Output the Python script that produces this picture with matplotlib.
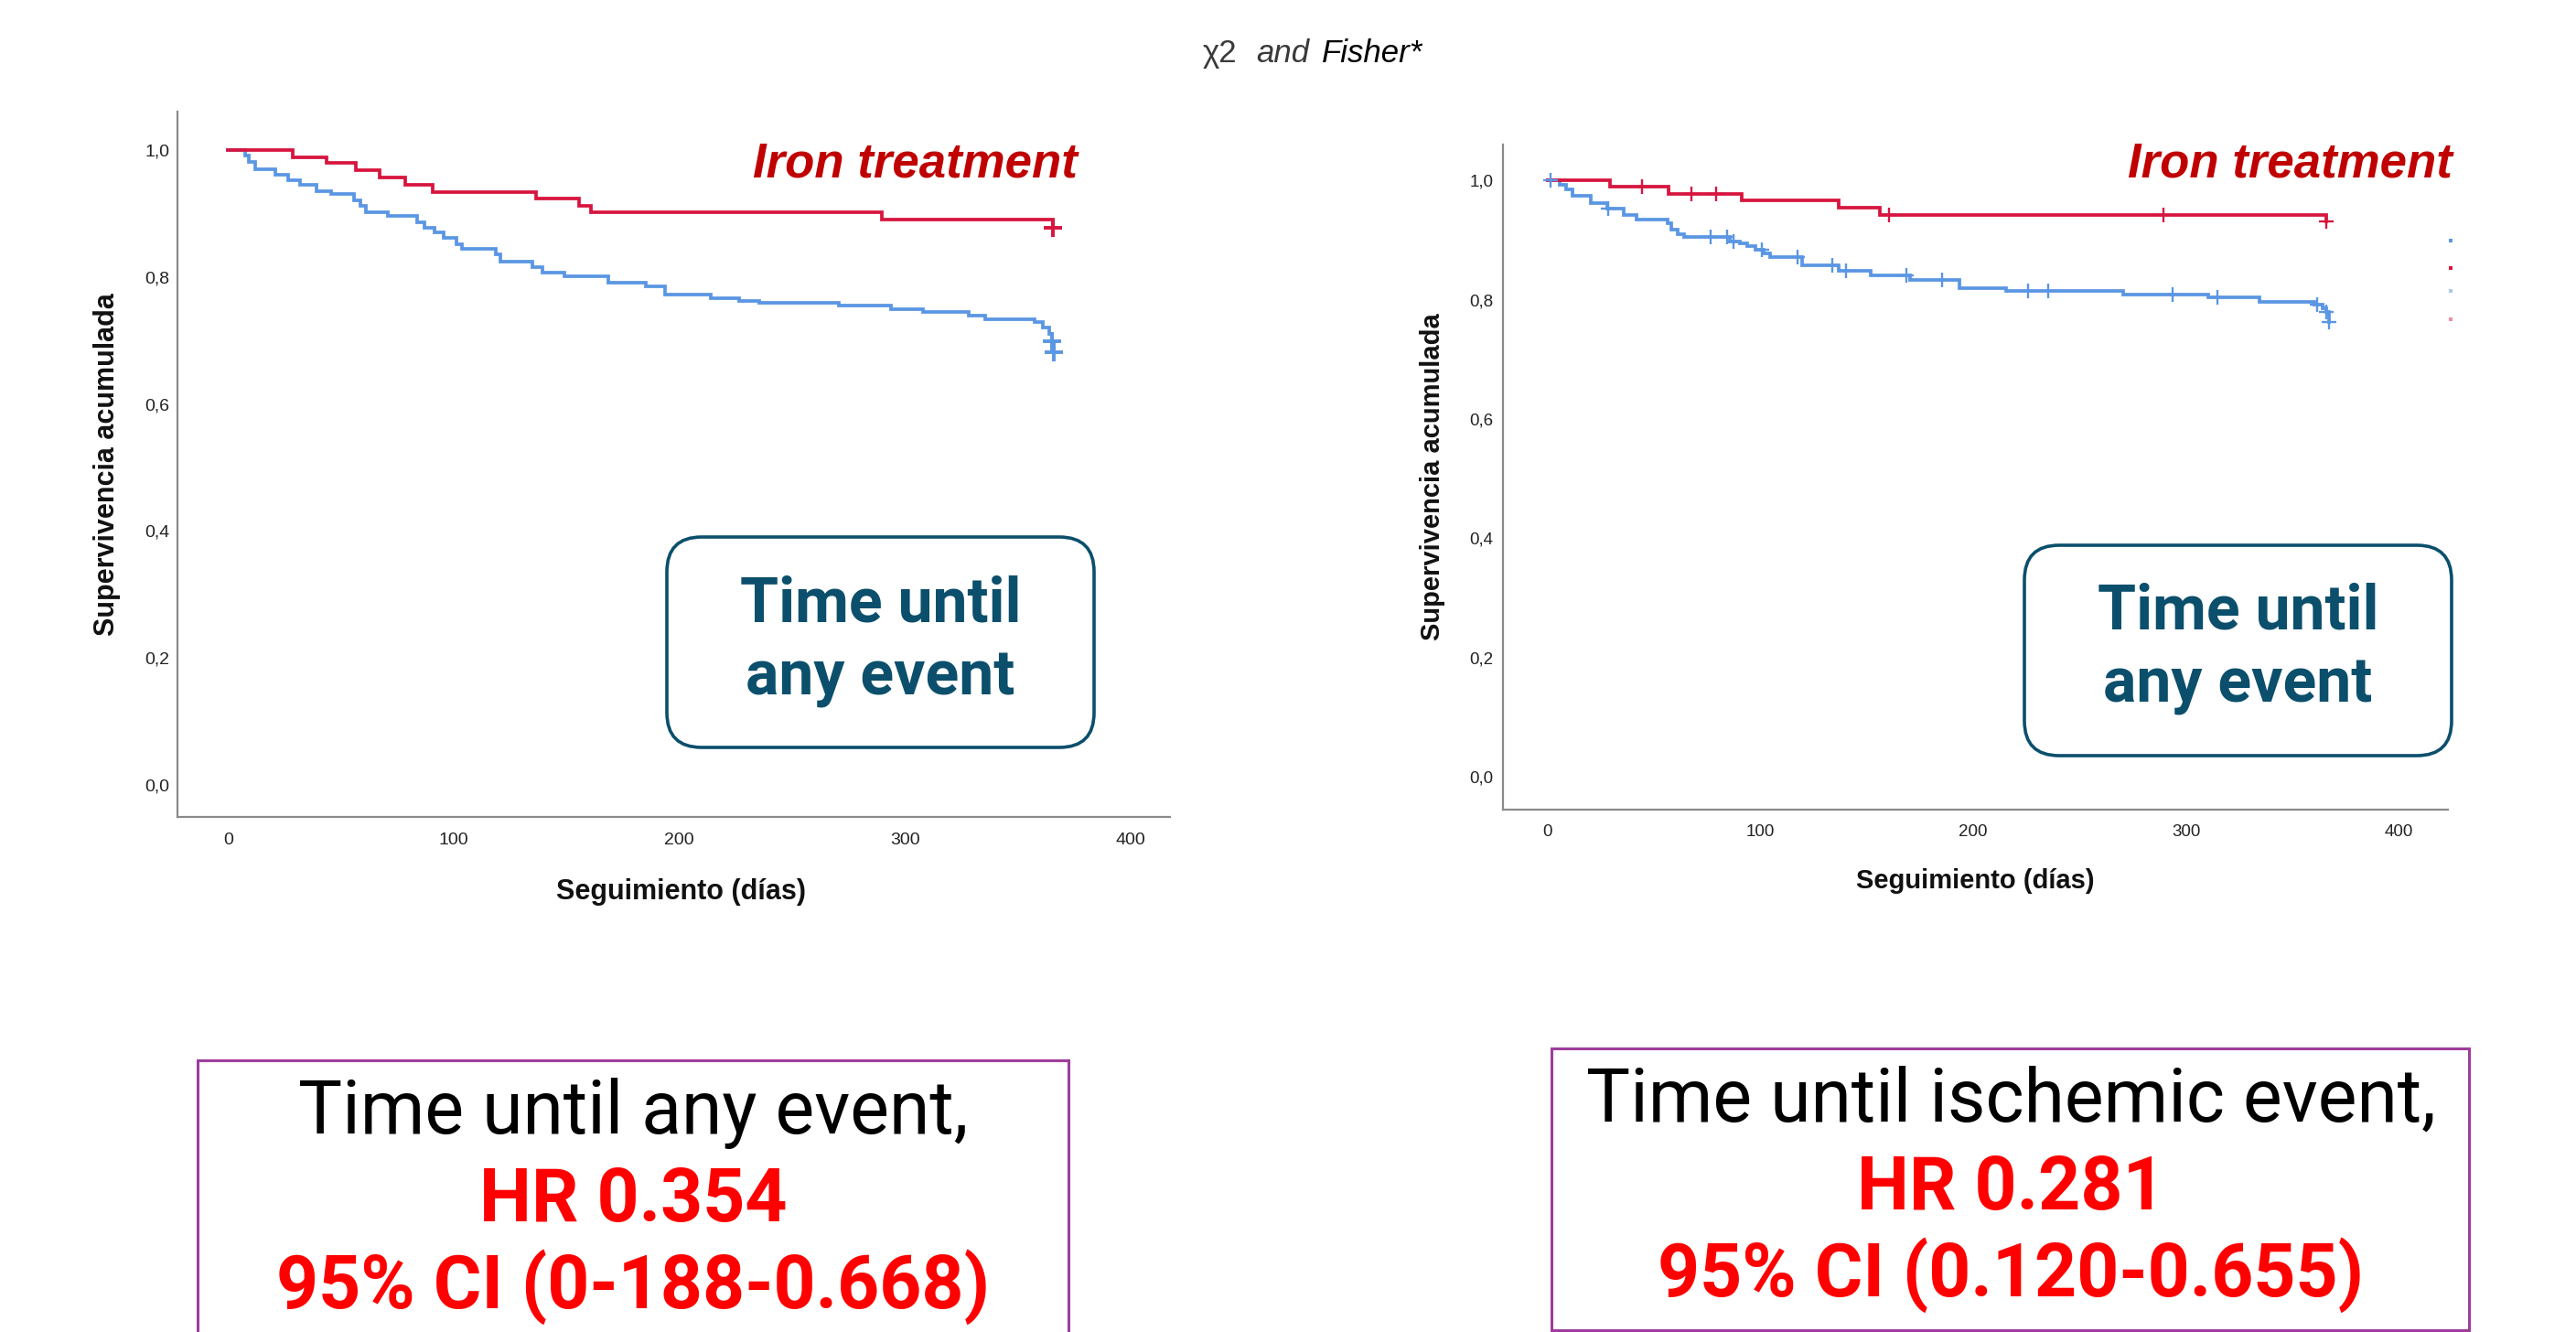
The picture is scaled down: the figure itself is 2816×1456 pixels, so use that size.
import numpy as np
import matplotlib
matplotlib.use("Agg")
import matplotlib.pyplot as plt
from matplotlib.patches import FancyBboxPatch, Rectangle

# ---------------- data ----------------
title_parts = ["χ2", "and", "Fisher*"]
group_label = "Iron treatment"
box_label = ["Time until", "any event"]
x_ticks = [0, 100, 200, 300, 400]
y_ticks = [0.0, 0.2, 0.4, 0.6, 0.8, 1.0]
y_tick_labels = ["0,0", "0,2", "0,4", "0,6", "0,8", "1,0"]
x_label = "Seguimiento (días)"
y_label = "Supervivencia acumulada"

# Left panel: time until any event
left_iron_t = [0, 28.7, 43.7, 56.6, 67.0, 78.4, 90.8, 136.3, 155.5, 160.6, 289.5, 365.5]
left_iron_s = [1.0, 0.989, 0.980, 0.969, 0.957, 0.946, 0.934, 0.924, 0.913, 0.902, 0.891, 0.878]
left_iron_cens = [365.5]

left_ctrl_t = [0, 7.5, 9.3, 11.9, 21, 26.6, 31.8, 39, 45.5, 55.9, 58.5, 61, 70.6, 83.6, 86.9,
               91.3, 95.5, 101.2, 103.7, 118.7, 120.6, 134.8, 139.4, 149, 168.4, 185.2, 193.8,
               213.7, 226.6, 235.2, 270.6, 293.9, 308, 328.3, 335.3, 357.3, 361.1, 363.7, 365, 366]
left_ctrl_s = [1.0, 0.992, 0.982, 0.970, 0.961, 0.953, 0.945, 0.936, 0.931, 0.921, 0.912, 0.903,
               0.896, 0.886, 0.878, 0.870, 0.862, 0.852, 0.845, 0.836, 0.825, 0.816, 0.807, 0.801,
               0.791, 0.786, 0.773, 0.767, 0.763, 0.759, 0.755, 0.750, 0.745, 0.740, 0.734, 0.729,
               0.720, 0.711, 0.699, 0.682]
left_ctrl_cens = [365, 366]

# Right panel: time until ischemic event
right_iron_t = [0, 29.3, 57, 91.1, 136.9, 155.9, 366]
right_iron_s = [1.0, 0.989, 0.977, 0.966, 0.954, 0.942, 0.931]
right_iron_cens = [44.3, 67.6, 79, 160.2, 289.2, 366]

right_ctrl_t = [0, 5.7, 8.8, 11.8, 20.2, 27.8, 35.9, 41.9, 56.4, 57.9, 60.9, 64, 85.7, 90.2, 93.8,
                97.7, 101.6, 104.7, 119.7, 136.9, 152, 170.1, 193.3, 215.4, 270.5, 310.4, 334.5,
                360.1, 364, 366, 367]
right_ctrl_s = [1.0, 0.992, 0.985, 0.974, 0.962, 0.952, 0.942, 0.935, 0.928, 0.918, 0.910, 0.905,
                0.897, 0.894, 0.889, 0.884, 0.877, 0.871, 0.858, 0.848, 0.840, 0.833, 0.819, 0.814,
                0.809, 0.804, 0.796, 0.791, 0.786, 0.780, 0.763]
right_ctrl_cens = [1.2, 28.4, 76.6, 84.2, 87.2, 100.7, 117.3, 133.9, 140, 168.6, 185.2, 225.9, 235,
                   293.8, 314.9, 361.6, 366, 367]

left_result = ["Time until any event,", "HR 0.354", "95% CI (0-188-0.668)"]
right_result = ["Time until ischemic event,", "HR 0.281", "95% CI (0.120-0.655)"]

# ---------------- style ----------------
W, H = 2816, 1456
BLUE = "#5A96E3"
RED = "#D7153F"
DARKRED = "#C00000"
TEAL = "#0B4F6C"
PURPLE = "#9E3D9C"
SPINE = "#8a8a8a"
SANS = ["Liberation Sans", "DejaVu Sans"]
NARROW = ["Liberation Sans Narrow", "Liberation Sans", "DejaVu Sans"]
ROBOTO = ["Roboto", "DejaVu Sans"]

fig = plt.figure(figsize=(W / 100, H / 100), dpi=100)
fig.patch.set_facecolor("white")


def step_value(times, surv, t):
    idx = np.searchsorted(np.asarray(times), t, side="right") - 1
    return np.asarray(surv)[idx]


def km_panel(rect, xlim, ylim, curves, fs_tick, fs_lab, ylab_x, xlab_y, xlab_x, xpad, ypad, ms, mew):
    ax = fig.add_axes(rect)
    for t, s, cens, col in curves:
        ax.step(t, s, where="post", color=col, lw=2.7, solid_joinstyle="miter", zorder=3)
        cy = [step_value(t, s, c) for c in cens]
        ax.plot(cens, cy, linestyle="none", marker="+", color=col, ms=ms, mew=mew, zorder=4)
    ax.set_xlim(*xlim)
    ax.set_ylim(*ylim)
    ax.set_xticks(x_ticks)
    ax.set_xticklabels([str(v) for v in x_ticks], family=SANS, fontsize=fs_tick, color="#222222")
    ax.set_yticks(y_ticks)
    ax.set_yticklabels(y_tick_labels, family=SANS, fontsize=fs_tick, color="#222222")
    ax.tick_params(axis="both", length=0)
    ax.tick_params(axis="x", pad=xpad)
    ax.tick_params(axis="y", pad=ypad)
    for side in ["top", "right"]:
        ax.spines[side].set_visible(False)
    for side in ["left", "bottom"]:
        ax.spines[side].set_color(SPINE)
        ax.spines[side].set_linewidth(1.6)
    ax.set_ylabel(y_label, family=SANS, fontsize=fs_lab, fontweight="bold", color="#111111")
    ax.yaxis.set_label_coords(ylab_x, 0.5)
    ax.yaxis.label.set_verticalalignment("center")
    ax.set_xlabel(x_label, family=SANS, fontsize=fs_lab, fontweight="bold", color="#111111")
    ax.xaxis.set_label_coords(xlab_x, xlab_y)
    ax.xaxis.label.set_verticalalignment("center")
    ax.set_facecolor("none")
    return ax


axL = km_panel([194 / W, 1 - 893 / H, 1085 / W, 771 / H], (-22.5, 417.4), (-0.051, 1.061),
               [(left_ctrl_t, left_ctrl_s, left_ctrl_cens, BLUE),
                (left_iron_t, left_iron_s, left_iron_cens, RED)],
               14, 22, -0.071, -0.106, 0.507, 12, 6, 14, 2.8)

axR = km_panel([1643 / W, 1 - 885 / H, 1033 / W, 727 / H], (-21, 423), (-0.055, 1.06),
               [(right_ctrl_t, right_ctrl_s, right_ctrl_cens, BLUE),
                (right_iron_t, right_iron_s, right_iron_cens, RED)],
               13.5, 21, -0.0745, -0.107, 0.4995, 11.5, 7.5, 11, 1.7)

# ---------------- overlay in pixel coordinates ----------------
ov = fig.add_axes([0, 0, 1, 1], zorder=10)
ov.set_xlim(0, W)
ov.set_ylim(H, 0)
ov.axis("off")
ov.patch.set_alpha(0)

# title
ov.text(1315, 68, title_parts[0], family=SANS, fontsize=25, color="#3a3a3a", va="baseline", ha="left")
ov.text(1373, 68, title_parts[1], family=SANS, fontsize=25, style="italic", color="#3a3a3a",
        va="baseline", ha="left")
ov.text(1445, 68, title_parts[2], family=SANS, fontsize=25, style="italic", color="black",
        va="baseline", ha="left")

# group labels
for xr in (1178, 2681):
    ov.text(xr, 194, group_label, family=NARROW, fontsize=38, fontweight="bold", style="italic",
            color=DARKRED, ha="right", va="baseline")

# rounded boxes
for (x0, x1, y0, y1) in [(729, 1196, 587, 817), (2213, 2680, 596, 826)]:
    ov.add_patch(FancyBboxPatch((x0, y0), x1 - x0, y1 - y0,
                                boxstyle="round,pad=0,rounding_size=38",
                                facecolor="white", edgecolor=TEAL, lw=2.6))
    cx = (x0 + x1) / 2
    ov.text(cx, y0 + 92, box_label[0], family=ROBOTO, fontsize=49, fontweight="bold",
            color=TEAL, ha="center", va="baseline")
    ov.text(cx, y0 + 172, box_label[1], family=ROBOTO, fontsize=49, fontweight="bold",
            color=TEAL, ha="center", va="baseline")

# tiny cut-off legend markers on the right
for yy, col in zip([263, 293, 318, 349], [BLUE, RED, "#A9C8F0", "#EE8FA5"]):
    ov.add_patch(Rectangle((2677, yy - 2), 4, 4, facecolor=col, edgecolor="none"))

# result boxes
ov.add_patch(Rectangle((216, 1159), 952, 330, facecolor="white", edgecolor=PURPLE, lw=2.2))
ov.add_patch(Rectangle((1696, 1146), 1003, 308, facecolor="white", edgecolor=PURPLE, lw=2.2))

for cx, base, lines in [(692, [1239, 1335, 1430], left_result), (2198, [1226, 1322, 1417], right_result)]:
    ov.text(cx, base[0], lines[0], family=ROBOTO, fontsize=58, color="black", ha="center", va="baseline")
    ov.text(cx, base[1], lines[1], family=ROBOTO, fontsize=58, fontweight="bold", color="#FF0000",
            ha="center", va="baseline")
    ov.text(cx, base[2], lines[2], family=ROBOTO, fontsize=58, fontweight="bold", color="#FF0000",
            ha="center", va="baseline")

fig.savefig("out.png", dpi=100, facecolor="white")
